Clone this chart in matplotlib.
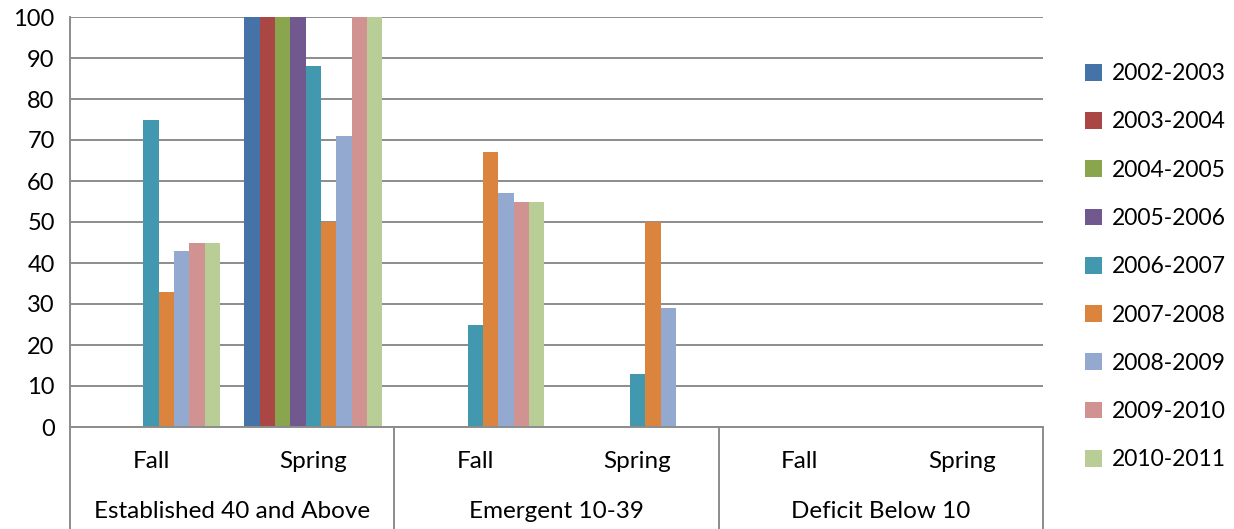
import matplotlib
matplotlib.use("Agg")
import matplotlib.pyplot as plt
from matplotlib.patches import Patch
from matplotlib.lines import Line2D
import numpy as np

plt.rcParams['font.family'] = ['Lato', 'DejaVu Sans']

inner_labels = ["Fall", "Spring", "Fall", "Spring", "Fall", "Spring"]
group_labels = ["Established 40 and Above", "Emergent 10-39", "Deficit Below 10"]
series_names = ["2002-2003", "2003-2004", "2004-2005", "2005-2006", "2006-2007",
                "2007-2008", "2008-2009", "2009-2010", "2010-2011"]
colors = ["#4572A7", "#AA4643", "#89A54E", "#71588F", "#4198AF",
          "#DB843D", "#93A9CF", "#D19392", "#B9CD96"]

s2002_2003 = [0, 100, 0, 0, 0, 0]
s2003_2004 = [0, 100, 0, 0, 0, 0]
s2004_2005 = [0, 100, 0, 0, 0, 0]
s2005_2006 = [0, 100, 0, 0, 0, 0]
s2006_2007 = [75, 88, 25, 13, 0, 0]
s2007_2008 = [33, 50, 67, 50, 0, 0]
s2008_2009 = [43, 71, 57, 29, 0, 0]
s2009_2010 = [45, 100, 55, 0, 0, 0]
s2010_2011 = [45, 100, 55, 0, 0, 0]
series_values = [s2002_2003, s2003_2004, s2004_2005, s2005_2006, s2006_2007,
                 s2007_2008, s2008_2009, s2009_2010, s2010_2011]

W, H = 1234, 529
fig = plt.figure(figsize=(W / 100, H / 100), dpi=100)
left, right, top, bottom = 70, 1043, 17, 427
ax = fig.add_axes([left / W, (H - bottom) / H, (right - left) / W, (bottom - top) / H])

n = len(series_names)
bw = 0.85 / n
x = np.arange(len(inner_labels))
for i, (name, vals, c) in enumerate(zip(series_names, series_values, colors)):
    ax.bar(x + (i - (n - 1) / 2) * bw, vals, width=bw, color=c, label=name,
           edgecolor='none', zorder=3)

ax.set_xlim(-0.5, len(inner_labels) - 0.5)
ax.set_ylim(0, 100)
ax.set_yticks(range(0, 101, 10))
ax.yaxis.grid(True, color='#8c8c8c', linewidth=1.4, zorder=0)
ax.set_axisbelow(True)
for s in ['top', 'right', 'bottom']:
    ax.spines[s].set_visible(False)
ax.spines['left'].set_color('#8c8c8c')
ax.spines['left'].set_linewidth(1.4)
ax.tick_params(axis='y', length=0, labelsize=17, pad=11)
ax.tick_params(axis='x', length=0, labelbottom=False)

# bottom axis line + multi-level labels
ph = bottom - top
tr = ax.get_xaxis_transform()
ax.add_line(Line2D([-0.5, len(inner_labels) - 0.5], [0, 0], transform=tr,
                   color='#8c8c8c', linewidth=1.4, clip_on=False, zorder=4))
y_sep_end = -(H - bottom) / ph
for xb in [-0.5, 1.5, 3.5, 5.5]:
    ax.add_line(Line2D([xb, xb], [0, y_sep_end], transform=tr, color='#8c8c8c',
                       linewidth=1.4, clip_on=False))
for xi, lab in zip(x, inner_labels):
    ax.text(xi, -(461 - bottom) / ph, lab, transform=tr, ha='center', va='center',
            fontsize=17.5)
for gi, lab in enumerate(group_labels):
    ax.text(2 * gi + 0.5, -(511 - bottom) / ph, lab, transform=tr, ha='center',
            va='center', fontsize=17.5)

handles = [Patch(facecolor=c, edgecolor='none') for c in colors]
leg = fig.legend(handles, series_names, loc='upper left',
                 bbox_to_anchor=(1076 / W, 1 - 54 / H), frameon=False,
                 fontsize=16.5, handlelength=0.75, handleheight=0.75,
                 handletextpad=0.4, labelspacing=1.19, borderaxespad=0)

fig.savefig("out.png", dpi=100)
